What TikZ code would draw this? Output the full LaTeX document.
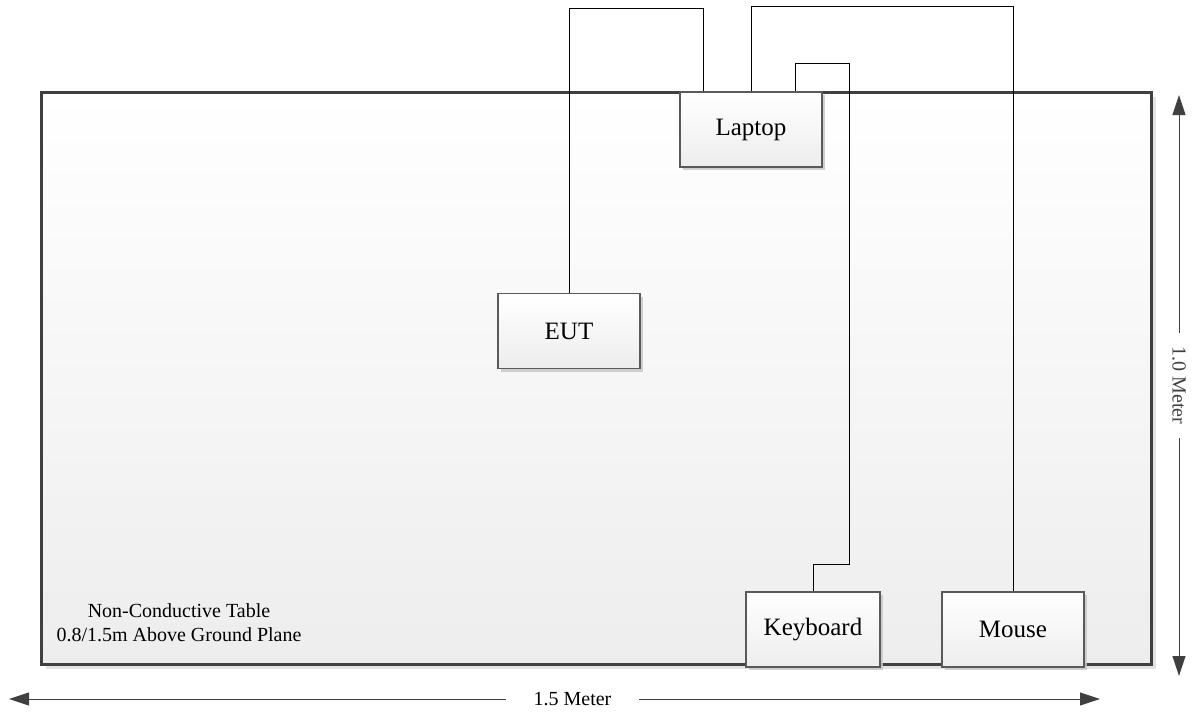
\documentclass[tikz,border=0pt]{standalone}
\usepackage{fontspec}
\setmainfont{Liberation Serif}
\usetikzlibrary{arrows.meta,shadows}
\definecolor{edgegray}{HTML}{404040}
\definecolor{boxgray}{HTML}{5A5A5A}
\tikzset{
  device/.style={draw=boxgray, line width=1.1pt, top color=white, bottom color=black!7,
    minimum width=142pt, minimum height=75pt, inner sep=0pt,
    font=\fontsize{25}{30}\selectfont,
    drop shadow={shadow xshift=3pt, shadow yshift=-3pt, fill=black!22, opacity=0.6}},
  wire/.style={black, line width=0.9pt},
  dimline/.style={edgegray, line width=1pt, {Triangle[length=20pt,width=13pt]}-{Triangle[length=20pt,width=13pt]}},
  dimlabel/.style={fill=white, font=\fontsize{20}{24}\selectfont, inner ysep=0pt}
}
\begin{document}
\begin{tikzpicture}[x=1pt,y=-1pt]
\useasboundingbox (0,0) rectangle (1195,713);
% table
\node[draw=edgegray, line width=3pt, top color=white, bottom color=black!7,
  minimum width=1110pt, minimum height=572pt, inner sep=0pt,
  drop shadow={shadow xshift=4pt, shadow yshift=-4pt, fill=black!18, opacity=0.6}]
  (table) at (596.5,378.5) {};
\node[align=center, font=\fontsize{20}{24}\selectfont] (tabletext) at (179,623)
  {Non-Conductive Table\\0.8/1.5m Above Ground Plane};
% devices
\node[device] (laptop) at (751,129.5) {Laptop};
\node[device] (eut) at (569,331) {EUT};
\node[device, minimum width=134pt] (keyboard) at (813,629.5) {Keyboard};
\node[device] (mouse) at (1013,629.5) {Mouse};
% wires
\coordinate (kbbend) at (849,564);
\draw[wire] (eut.north) -- ++(0,-285) -| ([xshift=-48pt]laptop.north);
\draw[wire] (laptop.north) -- ++(0,-85) -| (mouse.north);
\draw[wire] ([xshift=44pt]laptop.north) -- ++(0,-28) -| (kbbend) -| (keyboard.north);
% redraw boxes on top of wires
\node[device] at (laptop) {Laptop};
\node[device] at (eut) {EUT};
\node[device, minimum width=134pt] at (keyboard) {Keyboard};
\node[device] at (mouse) {Mouse};
% dimensions
\coordinate (vtop) at (1179,95);
\coordinate (vbot) at (1179,676);
\draw[dimline] (vtop) -- (vbot) node[midway, dimlabel, rotate=-90, inner xsep=14pt] (vlabel) {1.0 Meter};
\coordinate (hleft) at (9,699);
\coordinate (hright) at (1100,699);
\draw[dimline] (hleft) -- (hright);
\node[dimlabel, inner xsep=28pt] (hlabel) at (572.5,699) {1.5 Meter};
\end{tikzpicture}
\end{document}
